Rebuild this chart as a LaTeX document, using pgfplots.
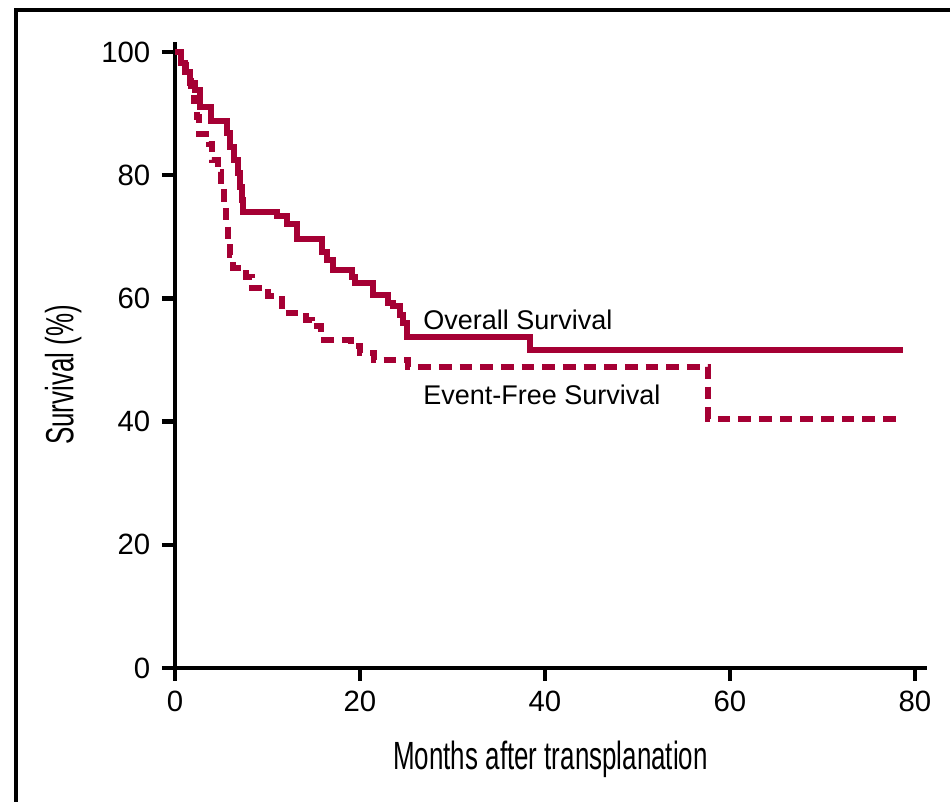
\documentclass[border=0pt]{standalone}
\usepackage{pgfplots}
\pgfplotsset{compat=1.18}
\usepackage{fontspec}
\setmainfont{Liberation Sans}
\newfontfamily\narrowfont{Liberation Sans}[FakeStretch=0.66]
\definecolor{kmred}{HTML}{A50034}

\begin{document}
\begin{tikzpicture}
\useasboundingbox (-52.5pt,-40.2pt) rectangle (232.5pt,200.4pt);
% outer frame (left and top edges only show)
\draw[line width=1.2pt] (-47.7pt,-50pt) -- (-47.7pt,197.4pt) -- (240pt,197.4pt);
\begin{axis}[
    anchor=origin, at={(0,0)},
    x=2.775pt, y=1.848pt,
    xmin=0, xmax=81.3,
    ymin=0, ymax=101.7,
    axis x line=bottom, axis y line=left,
    axis line style={-, line width=1.3pt},
    tick align=outside,
    major tick length=3.9pt,
    tick style={line width=1.3pt, black},
    xtick={0,20,...,80},
    ytick={0,20,...,100},
    minor tick num=0,
    /pgf/number format/assume math mode=true,
    tick label style={font=\fontsize{8.8}{10}\selectfont},
    xticklabel style={yshift=0.6pt},
    xlabel={Months after transplanation},
    ylabel={Survival (\%)},
    label style={font=\narrowfont\fontsize{11.8}{13}\selectfont},
    xlabel style={at={(axis description cs:0.4994,-0.1628)}, anchor=base},
    ylabel style={at={(axis description cs:-0.1352,0.4677)}, anchor=base, rotate=0},
    clip=false,
]
% overall survival
\addplot[const plot, kmred, line width=1.8pt] coordinates {
    (0,100) (0.6,98.2) (1.1,96.8) (1.6,95) (2.2,93.8) (2.7,91) (3.9,88.8)
    (5.6,86.8) (6.0,84.6) (6.4,82.5) (6.8,80.3) (7.0,78.1) (7.2,76) (7.4,74.1)
    (11.0,73.3) (12.1,72.1) (13.2,69.7) (15.9,67.6) (16.4,66.2) (17.1,64.6)
    (19.1,63.5) (19.5,62.5) (21.4,60.6) (23.0,59.3) (23.6,58.8) (24.3,57.3)
    (24.6,56.0) (25.1,53.8) (38.4,51.7) (78.7,51.7)
};
% event-free survival
\addplot[const plot, kmred, line width=1.8pt, dash pattern=on 3.8pt off 2.4pt] coordinates {
    (0,100) (0.6,98.5) (1.2,96.8) (1.7,94.5) (2.1,92) (2.4,89.5) (2.6,86.7)
    (3.7,85) (4.0,82.5) (4.6,80.5) (5.0,78) (5.3,75) (5.5,72) (5.7,69.5)
    (6.0,67) (6.3,65) (7.7,63.5) (8.3,61.7) (10.1,60.4) (11.6,57.6)
    (14.2,56.5) (14.8,55.5) (15.8,53.3) (19.0,52.2) (20.0,51.2) (21.5,50.0)
    (25.2,48.9) (57.65,40.5) (78.7,40.5)
};
\node[anchor=base west, inner sep=0pt, font=\fontsize{8.1}{9}\selectfont]
    at (axis cs:26.78,54.98) {Overall Survival};
\node[anchor=base west, inner sep=0pt, font=\fontsize{8.1}{9}\selectfont]
    at (axis cs:26.78,42.7) {Event-Free Survival};
\end{axis}
\end{tikzpicture}
\end{document}
